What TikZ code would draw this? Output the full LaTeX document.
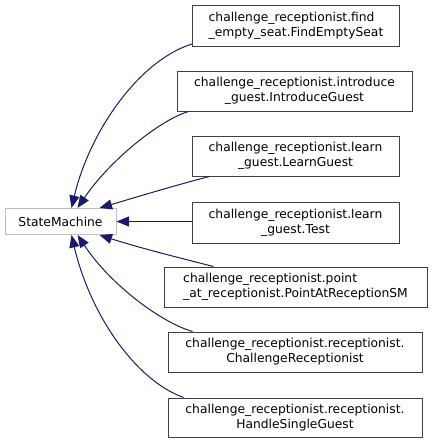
\documentclass[tikz,border=0pt]{standalone}
\usepackage{fontspec}
\setmainfont{DejaVu Sans}
\usetikzlibrary{arrows.meta,calc}
\definecolor{edgeblue}{HTML}{191970}
\definecolor{boxgray}{HTML}{404040}
\definecolor{lightgray}{HTML}{BFBFBF}
\tikzset{
  cls/.style={draw=boxgray, line width=1pt, inner sep=0pt, font=\fontsize{12.3}{15}\selectfont},
  base/.style={draw=lightgray, line width=1pt, inner sep=0pt, font=\fontsize{12.3}{15}\selectfont},
  edge/.style={draw=edgeblue, line width=1pt, {Triangle[length=12.5pt,width=10pt]}-}
}
\begin{document}
\begin{tikzpicture}[x=1pt,y=-1pt]
\useasboundingbox (0,0) rectangle (432,444);
\node[base, minimum width=111pt, minimum height=26pt] (sm) at (60.5,221.5) {StateMachine};
\node[cls, minimum width=207pt, minimum height=41pt, align=left] (b1) at (296,26) {challenge\_receptionist.find\\\_empty\_seat.FindEmptySeat};
\node[cls, minimum width=235pt, minimum height=40pt, align=center] (b2) at (294.5,91) {challenge\_receptionist.introduce\\\_guest.IntroduceGuest};
\node[cls, minimum width=207pt, minimum height=40pt, align=center] (b3) at (295.5,156) {challenge\_receptionist.learn\\\_guest.LearnGuest};
\node[cls, minimum width=207pt, minimum height=41pt, align=center] (b4) at (295.5,222.5) {challenge\_receptionist.learn\\\_guest.Test};
\node[cls, minimum width=263pt, minimum height=40pt, align=left] (b5) at (295.5,287) {challenge\_receptionist.point\\\_at\_receptionist.PointAtReceptionSM};
\node[cls, minimum width=254pt, minimum height=40pt, align=center] (b6) at (295,352) {challenge\_receptionist.receptionist.\\ChallengeReceptionist};
\node[cls, minimum width=254pt, minimum height=39pt, align=center] (b7) at (295,417.5) {challenge\_receptionist.receptionist.\\HandleSingleGuest};

\draw[edge] ($(sm.north west)+(67,0)$) .. controls (90,130) and (140,60) .. ($(b1.south west)+(0,-3)$);
\draw[edge] ($(sm.north west)+(73,0)$) .. controls (110,160) and (160,120) .. ($(b2.south west)+(12,0)$);
\draw[edge] ($(sm.north west)+(95,0)$) .. controls (140,196) and (180,184) .. ($(b3.south west)+(18,0)$);
\draw[edge] (sm.east) -- (sm.east -| b4.west);
\draw[edge] ($(sm.south west)+(95,0)$) .. controls (140,248) and (180,258) .. ($(b5.north west)+(50,0)$);
\draw[edge] ($(sm.south west)+(73,0)$) .. controls (110,284) and (160,322) .. ($(b6.north west)+(25,0)$);
\draw[edge] ($(sm.south west)+(67,0)$) .. controls (90,314) and (135,380) .. ($(b7.north west)+(16,0)$);
\end{tikzpicture}
\end{document}
